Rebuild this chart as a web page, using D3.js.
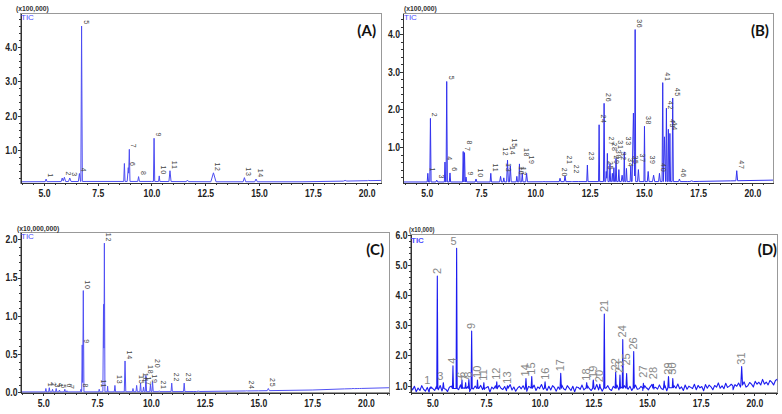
<!DOCTYPE html>
<html>
<head>
<meta charset="utf-8">
<script src="https://cdnjs.cloudflare.com/ajax/libs/d3/7.8.5/d3.min.js"></script>
<style>
    body { margin: 0; background: #fff; }
    svg { display: block; }
    .axis text { font-family: "Liberation Sans", Arial, sans-serif; font-weight: bold; font-size: 10.5px; fill: #222; }
    .axis path, .axis line { stroke: #333; shape-rendering: crispEdges; }
</style>
</head>
<body>
<svg width="782" height="414"></svg>
<script>
// x ticks (retention time, min) - same on every panel
var xTicks = [5.0, 7.5, 10.0, 12.5, 15.0, 17.5, 20.0];

// y tick labels of each panel
var yTicksA = [1.0, 2.0, 3.0, 4.0];
var yTicksB = [1.0, 2.0, 3.0, 4.0];
var yTicksC = [0.0, 0.5, 1.0, 1.5, 2.0];
var yTicksD = [1.0, 2.0, 3.0, 4.0, 5.0, 6.0];

// peaks: [time, height, half width, label, label level (optional)]
var peaksA = [
    [5.1, 0.17, 0.04, "1"], [5.85, 0.2, 0.05, ""], [5.95, 0.22, 0.06, "2"], [6.2, 0.2, 0.06, "3"],
    [6.65, 0.33, 0.05, "4"], [6.75, 4.6, 0.035, "5"], [8.74, 0.62, 0.03, ""], [8.92, 0.5, 0.05, "6"],
    [8.97, 1.03, 0.03, "7"], [9.4, 0.24, 0.04, "8"], [10.12, 1.35, 0.03, "9"], [10.36, 0.26, 0.03, "10"],
    [10.86, 0.41, 0.05, "11"], [11.67, 0.14, 0.05, ""], [12.88, 0.35, 0.12, "12"], [14.32, 0.21, 0.06, "13"],
    [14.86, 0.17, 0.06, "14"], [19.0, 0.13, 0.08, ""], [20.1, 0.13, 0.06, ""]
];
var peaksB = [
    [5.05, 0.3, 0.03, "1"], [5.17, 1.76, 0.03, "2"], [5.46, 0.12, 0.04, "3"], [5.84, 0.6, 0.03, "4"],
    [5.92, 2.74, 0.03, "5"], [6.07, 0.31, 0.03, "6"], [6.68, 0.88, 0.03, "7", 0.85], [6.74, 0.85, 0.03, "8", 1.02],
    [6.81, 0.2, 0.03, "9"], [7.27, 0.15, 0.04, "10"], [7.95, 0.3, 0.03, "11"], [8.4, 0.22, 0.04, "12", 0.72],
    [8.55, 0.18, 0.03, "13", 0.3], [8.72, 0.65, 0.04, "14", 0.75], [8.85, 0.5, 0.04, "15", 0.95],
    [9.15, 0.22, 0.03, "16"], [9.27, 0.55, 0.03, "17", 0.2], [9.4, 0.3, 0.03, "18", 0.7], [9.6, 0.3, 0.04, "19", 0.5],
    [10.4, 0.08, 0.05, ""], [11.14, 0.17, 0.04, "20"], [11.37, 0.23, 0.04, "21", 0.5], [11.68, 0.08, 0.03, "22", 0.25],
    [12.4, 0.52, 0.03, "23", 0.6], [12.94, 1.59, 0.025, "24"], [13.17, 2.16, 0.03, "26"], [13.27, 0.35, 0.03, "25"],
    [13.32, 0.83, 0.03, "27", 1.0], [13.44, 0.56, 0.03, "28", 0.85], [13.55, 0.3, 0.03, "29", 0.5],
    [13.62, 0.45, 0.03, "30", 0.65], [13.72, 0.7, 0.03, "31", 0.9], [13.85, 0.4, 0.03, "32", 0.6],
    [14.0, 0.25, 0.04, ""], [14.1, 0.87, 0.025, "33", 1.0], [14.2, 0.43, 0.03, "34"], [14.4, 0.5, 0.03, "35"],
    [14.52, 1.9, 0.06, ""], [14.6, 4.12, 0.025, "36"], [14.75, 0.4, 0.04, "37", 0.55], [15.03, 1.55, 0.025, "38"],
    [15.2, 0.35, 0.04, "39", 0.5], [15.45, 0.25, 0.05, ""], [15.72, 0.3, 0.04, "40"], [15.87, 2.71, 0.03, "41"],
    [15.95, 1.27, 0.05, ""], [16.04, 2.03, 0.03, "42", 1.95], [16.13, 1.47, 0.03, "43"], [16.2, 1.36, 0.03, "44", 1.4],
    [16.33, 2.3, 0.03, "45"], [16.64, 0.15, 0.04, "46"], [17.2, 0.1, 0.08, ""], [17.5, 0.07, 0.05, ""],
    [19.28, 0.37, 0.04, "47"]
];
var peaksC = [
    [5.12, 0.05, 0.03, "1"], [5.28, 0.06, 0.03, "2"], [5.43, 0.04, 0.03, "3"], [5.6, 0.05, 0.03, "4"],
    [5.75, 0.03, 0.03, "5"], [6.0, 0.04, 0.03, "6"], [6.1, 0.02, 0.03, "7"], [6.75, 0.04, 0.03, "8"],
    [6.81, 0.62, 0.025, "9"], [6.86, 1.33, 0.03, "10"], [7.6, 0.04, 0.03, "11"], [7.8, 1.15, 0.03, ""],
    [7.84, 1.95, 0.025, "12"], [7.99, 0.08, 0.02, ""], [8.33, 0.09, 0.03, "13"], [8.8, 0.41, 0.035, "14"],
    [9.17, 0.05, 0.03, ""], [9.34, 0.09, 0.03, "15"], [9.52, 0.12, 0.03, "16"], [9.66, 0.07, 0.03, "17"],
    [9.77, 0.22, 0.03, "18"], [9.98, 0.1, 0.03, "19"], [10.08, 0.14, 0.03, "20", 0.3], [10.39, 0.02, 0.03, "21"],
    [10.97, 0.12, 0.03, "22"], [11.55, 0.12, 0.03, "23"], [12.2, 0.015, 0.08, ""], [14.45, 0.02, 0.05, "24"],
    [15.46, 0.05, 0.05, "25"], [19.4, 0.05, 0.06, ""], [19.7, 0.04, 0.08, ""]
];
var peaksD = [
    [4.9, 0.95, 0.03, "1"], [5.23, 4.63, 0.025, "2"], [5.51, 1.1, 0.03, "3"], [5.96, 1.66, 0.025, "4"],
    [6.13, 5.55, 0.025, "5"], [6.38, 1.19, 0.03, "6"], [6.55, 1.1, 0.03, "7"], [6.7, 1.2, 0.03, "8"],
    [6.83, 2.81, 0.025, "9"], [7.1, 1.19, 0.03, "10"], [7.4, 1.1, 0.03, "11"], [8.0, 1.13, 0.03, "12"],
    [8.5, 1.0, 0.03, "13"], [9.36, 1.24, 0.03, "14"], [9.63, 1.3, 0.03, "15"], [10.25, 1.13, 0.03, "16"],
    [10.98, 1.41, 0.03, "17"], [12.19, 1.1, 0.03, "18"], [12.5, 1.19, 0.03, "19"], [12.8, 1.05, 0.03, "20"],
    [13.01, 3.37, 0.025, "21"], [13.54, 1.44, 0.025, "22"], [13.74, 1.35, 0.025, "23"], [13.87, 2.53, 0.025, "24"],
    [14.05, 1.4, 0.03, "25", 1.6], [14.38, 2.13, 0.025, "26"], [14.83, 1.08, 0.03, "27", 1.2],
    [15.3, 1.05, 0.03, "28", 1.15], [15.8, 1.15, 0.03, ""], [16.0, 1.3, 0.03, "29"], [16.2, 1.24, 0.03, "30", 1.3],
    [19.41, 1.63, 0.04, "31"]
];

// baseline levels [time, value]
var baseA = [[3.9, 0.09], [7, 0.1], [10, 0.1], [13, 0.09], [17, 0.09], [19, 0.11], [20.7, 0.13]];
var baseB = [[3.9, 0.07], [8, 0.07], [12, 0.08], [17, 0.08], [19, 0.1], [21, 0.12]];
var baseC = [[3.9, 0.005], [8, 0.006], [12, 0.01], [15, 0.02], [17.5, 0.03], [19, 0.045], [21.1, 0.06]];
var baseD = [[3.9, 0.9], [10, 0.92], [15, 0.92], [17.5, 0.95], [19, 0.99], [20, 1.06], [21.1, 1.14]];

// baseline noise of panel D (x 0.02)
var noiseD = [
    3, -2, 4, -5, 1, -3, 5, -1, -4, 2, -6, 3, 0, -3, 4, -2, 5, -4, 1, -1,
    -5, 2, 4, -3, 0, 3, -2, 6, -4, 1, -2, 3, -5, 2, -1, 4, -3, 0, 5, -2,
    -4, 1, 3, -6, 2, -1, 4, -3, 5, 0, -2, 3, -4, 1, 6, -3, 2, -5, 0, 3,
    -1, 4, -2, -5, 3, 1, -3, 5, -4, 2, -1, 6, -2, 0, -4, 3, -3, 4, 1, -5,
    2, -2, 5, -1, -3, 4, 0, -4, 3, -6, 2, 1, -2, 5, -3, 0, 4, -1, -4, 3,
    -2, 6, -3, 1, -5, 2, 0, 4, -2, -4, 3, -1, 5, -3, 2, -6, 4, 0, -2, 3,
    -4, 1, 5, -2, -1, 3, -5, 4, 0, -3, 2, 6, -4, 1, -2, 5, -1, -3, 4, -5,
    2, 0, -4, 3, -1, 6, -2, 1, -5, 4, -3, 2, 0, -2, 5, -4, 3, -1, 1, -6,
    4, -2, 3, 0, -5, 2, -1, 6, -3, 1, -4, 5, -2, 0, 3, -6, 2, -1, 4, -3,
    1, 5, -4, -2, 3, 0, -5, 4, -1, 2, -3, 6, -2, 1, -4, 3, 0, -5, 2, 4
];

// panel layout
var panels = [
    {id: "a", title: "(A)", unit: "(x100,000)", peaks: peaksA, base: baseA, noise: null, yTicks: yTicksA, yMinor: 0.2,
        l: 20.5, r: 381, t: 13, b: 183, xDom: [3.91, 20.67], yDom: [0.055, 4.978], color: "#4d4df2",
        titleX: 376, titleY: 36, unitX: 16, unitY: 11.5, ticX: 21, ticY: 20},
    {id: "b", title: "(B)", unit: "(x100,000)", peaks: peaksB, base: baseB, noise: null, yTicks: yTicksB, yMinor: 0.2,
        l: 403.3, r: 773, t: 13, b: 183, xDom: [3.92, 20.95], yDom: [0.043, 4.56], color: "#3333ee",
        titleX: 769, titleY: 36, unitX: 404, unitY: 11.5, ticX: 404, ticY: 20},
    {id: "c", title: "(C)", unit: "(x10,000,000)", peaks: peaksC, base: baseC, noise: null, yTicks: yTicksC, yMinor: 0.1,
        l: 20.7, r: 389, t: 232.3, b: 392.7, xDom: [3.95, 21.07], yDom: [-0.005, 2.092], color: "#5151f4",
        titleX: 384, titleY: 255, unitX: 17, unitY: 231, ticX: 21, ticY: 239},
    {id: "d", title: "(D)", unit: "(x10,000)", peaks: peaksD, base: baseD, noise: noiseD, yTicks: yTicksD, yMinor: 0.2,
        l: 410.7, r: 777.3, t: 234.7, b: 392.7, xDom: [3.99, 21.07], yDom: [0.768, 6.0], color: "#1c1cf0",
        titleX: 777, titleY: 255, unitX: 409, unitY: 232, ticX: 411, ticY: 243}
];

var svg = d3.select("svg");

// gray line at the left of panel D
svg.append("line")
    .attr("x1", 389.5).attr("x2", 389.5)
    .attr("y1", 232).attr("y2", 396)
    .attr("stroke", "#999")
    .attr("stroke-width", 1);

panels.forEach(drawPanel);

//build the trace of one chromatogram
function buildTrace(p) {
    var baseFn = d3.scaleLinear()
        .domain(p.base.map(function (d) { return d[0]; }))
        .range(p.base.map(function (d) { return d[1]; }))
        .clamp(true);
    var keys = p.base.map(function (d) { return d[0]; });
    p.peaks.forEach(function (pk) {
        keys.push(pk[0] - pk[2], pk[0], pk[0] + pk[2]);
    });
    var noiseAt = {};
    if (p.noise) {
        p.noise.forEach(function (n, i) {
            var t = p.xDom[0] + i * (p.xDom[1] - p.xDom[0]) / (p.noise.length - 1);
            keys.push(t);
            noiseAt[t] = n * 0.02;
        });
    }
    keys.sort(d3.ascending);
    return keys.map(function (t) {
        var bump = 0;
        p.peaks.forEach(function (pk) {
            var dist = Math.abs(t - pk[0]);
            if (dist < pk[2]) {
                bump = Math.max(bump, (pk[1] - baseFn(pk[0])) * (1 - dist / pk[2]));
            }
        });
        return [t, baseFn(t) + (noiseAt[t] || 0) + bump];
    });
}

function drawPanel(p) {
    var x = d3.scaleLinear().domain(p.xDom).range([p.l, p.r]);
    var y = d3.scaleLinear().domain(p.yDom).range([p.b, p.t]);
    var g = svg.append("g").classed("panel", true);

    g.append("clipPath")
        .attr("id", "clip-" + p.id)
        .append("rect")
        .attr("x", p.l).attr("y", p.t)
        .attr("width", p.r - p.l).attr("height", p.b - p.t);

    // frame
    g.append("rect")
        .attr("x", p.l).attr("y", p.t)
        .attr("width", p.r - p.l).attr("height", p.b - p.t)
        .attr("fill", "none")
        .attr("stroke", "#999")
        .attr("stroke-width", 1)
        .attr("shape-rendering", "crispEdges");

    // trace
    var line = d3.line()
        .x(function (d) { return x(d[0]); })
        .y(function (d) { return y(d[1]); });
    g.append("path")
        .datum(buildTrace(p))
        .attr("clip-path", "url(#clip-" + p.id + ")")
        .attr("d", line)
        .attr("fill", "none")
        .attr("stroke", p.color)
        .attr("stroke-width", p.noise ? 1.1 : 1)
        .attr("stroke-linejoin", "round");

    // minor ticks
    var xMinor = d3.range(4, 21.01, 0.5).filter(function (v) { return v >= p.xDom[0] && v <= p.xDom[1]; });
    var yMinor = d3.range(0, p.yDom[1], p.yMinor).filter(function (v) { return v >= p.yDom[0]; });
    g.append("g").classed("axis", true)
        .attr("transform", "translate(0," + p.b + ")")
        .call(d3.axisBottom(x).tickValues(xMinor).tickSize(2).tickFormat(""))
        .select(".domain").remove();
    g.append("g").classed("axis", true)
        .attr("transform", "translate(" + p.l + ",0)")
        .call(d3.axisLeft(y).tickValues(yMinor).tickSize(2).tickFormat(""))
        .select(".domain").remove();

    // main axes, narrow bold labels
    g.append("g").classed("axis", true)
        .attr("transform", "translate(0," + p.b + ")")
        .call(d3.axisBottom(x).tickValues(xTicks).tickSize(3).tickPadding(4)
            .tickFormat(d3.format(".1f")).tickSizeOuter(0))
        .selectAll(".tick text")
        .attr("transform", "scale(0.82,1)");
    g.append("g").classed("axis", true)
        .attr("transform", "translate(" + p.l + ",0)")
        .call(d3.axisLeft(y).tickValues(p.yTicks).tickSize(3).tickPadding(1)
            .tickFormat(d3.format(".1f")).tickSizeOuter(0))
        .selectAll(".tick text")
        .attr("transform", "scale(0.82,1)");

    // peak labels
    var labels = p.peaks.filter(function (d) { return d[3] != ""; });
    if (p.id == "d") {
        var flat = ["1", "3", "5"];
        g.selectAll("text.peak")
            .data(labels)
            .enter()
            .append("text")
            .classed("peak", true)
            .attr("transform", function (d) {
                var lv = d.length > 4 ? d[4] : d[1];
                if (flat.indexOf(d[3]) >= 0)
                    return "translate(" + (x(d[0]) - 3) + "," + (y(lv) - 3) + ")";
                return "translate(" + (x(d[0]) + 3.5) + "," + (y(lv) - 2) + ") rotate(-90)";
            })
            .attr("text-anchor", function (d) {
                return flat.indexOf(d[3]) >= 0 ? "middle" : "start";
            })
            .attr("font-family", "Liberation Sans, Arial, sans-serif")
            .attr("font-size", 11)
            .attr("fill", "#888")
            .text(function (d) { return d[3]; });
    } else {
        g.selectAll("text.peak")
            .data(labels)
            .enter()
            .append("text")
            .classed("peak", true)
            .attr("transform", function (d) {
                var lv = d.length > 4 ? d[4] : d[1];
                return "translate(" + (x(d[0]) + 2) + "," + (y(lv) - 1) + ") rotate(90)";
            })
            .attr("text-anchor", "end")
            .attr("font-family", "Liberation Sans, Arial, sans-serif")
            .attr("font-size", 7)
            .attr("letter-spacing", 0.8)
            .attr("fill", "#444")
            .text(function (d) { return d[3]; });
    }

    // texts
    g.append("text")
        .attr("x", p.unitX).attr("y", p.unitY)
        .attr("font-family", "Liberation Sans, Arial, sans-serif")
        .attr("font-weight", "bold")
        .attr("font-size", p.id == "d" ? 7 : 8)
        .attr("fill", "#333")
        .attr("transform", "translate(" + p.unitX * 0.15 + ",0) scale(0.85,1)")
        .text(p.unit);
    g.append("text")
        .attr("x", p.ticX).attr("y", p.ticY)
        .attr("font-family", "Liberation Sans, Arial, sans-serif")
        .attr("font-weight", p.id == "d" ? "bold" : "normal")
        .attr("font-size", 8)
        .attr("fill", "#4b4bff")
        .text("TIC");
    g.append("text")
        .attr("x", p.titleX).attr("y", p.titleY)
        .attr("text-anchor", "end")
        .attr("font-family", "Lato, Open Sans, sans-serif")
        .attr("font-weight", "bold")
        .attr("font-size", 15)
        .attr("fill", "#111")
        .text(p.title);
}
</script>
</body>
</html>
